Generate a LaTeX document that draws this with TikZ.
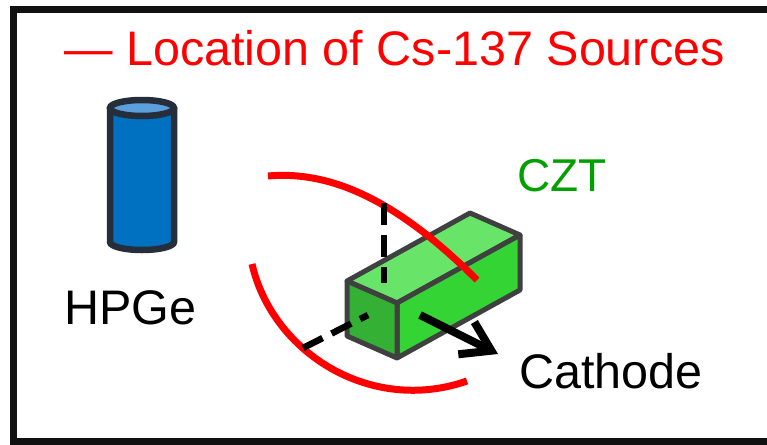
\documentclass[tikz,border=0pt]{standalone}
\usepackage{fontspec}
\setmainfont{Liberation Sans}
\usetikzlibrary{arrows.meta}

\definecolor{frame}{RGB}{17,17,17}
\definecolor{hpge}{RGB}{0,112,192}
\definecolor{hpgetop}{RGB}{91,160,220}
\definecolor{hpgeedge}{RGB}{38,45,59}
\definecolor{cztedge}{RGB}{64,64,64}
\definecolor{czttop}{RGB}{104,228,104}
\definecolor{cztside}{RGB}{52,212,52}
\definecolor{cztfront}{RGB}{52,176,52}
\definecolor{cztlabel}{RGB}{0,160,0}

\begin{document}
\begin{tikzpicture}[x=1pt, y=-1pt,
    label text/.style={inner sep=0pt, anchor=base west, font=\fontsize{48.5}{50}\selectfont},
    source ring/.style={draw=red, line width=7pt},
    axis line/.style={line width=6.5pt, dash pattern=on 22pt off 10pt},
    face/.style={draw=cztedge, line width=5pt, line join=round}]
  \useasboundingbox (0,0) rectangle (767,444);
  \draw[frame, line width=7pt] (13,9.5) rectangle (800,441.5);

  \node[label text, text=red] (legend) at (64,65) {— Location of Cs-137 Sources};

  % HPGe
  \fill[hpge] (110,108) rectangle (174,242);
  \fill[hpge] (142,242) ellipse[x radius=32pt, y radius=8pt];
  \draw[hpgeedge, line width=6.5pt] (110,108) -- (110,242)
    arc[start angle=180, end angle=360, x radius=32pt, y radius=8pt] -- (174,108);
  \filldraw[fill=hpgetop, draw=hpgeedge, line width=6.5pt] (142,108) ellipse[x radius=32pt, y radius=8pt];
  \node[label text] (hpge) at (64,324) {HPGe};

  % CZT bar
  \coordinate (ftl) at (347,281);
  \coordinate (ftr) at (397,303);
  \coordinate (fbr) at (397,358);
  \coordinate (fbl) at (347,336);
  \coordinate (btl) at (470,213);
  \coordinate (btr) at (520,235);
  \coordinate (bbr) at (520,290);
  \filldraw[face, fill=czttop] (ftl) -- (ftr) -- (btr) -- (btl) -- cycle;
  \filldraw[face, fill=cztside] (ftr) -- (btr) -- (bbr) -- (fbr) -- cycle;
  \filldraw[face, fill=cztfront] (ftl) -- (ftr) -- (fbr) -- (fbl) -- cycle;
  \node[label text, font=\fontsize{46}{50}\selectfont, text=cztlabel] (czt) at (517,191) {CZT};

  % source positions
  \coordinate (upper start) at (268,176);
  \coordinate (upper end) at (477,280);
  \coordinate (lower start) at (252,264);
  \coordinate (lower end) at (467,381);
  \draw[source ring] (upper start) .. controls (335,170) and (402,205) .. (upper end);
  \draw[source ring] (lower start) .. controls (272.5,353) and (371,414.5) .. (lower end);

  \coordinate (ring top) at (384,203);
  \coordinate (top centre) at (384,283);
  \coordinate (ring front) at (303,348);
  \coordinate (front centre) at (368,315);
  \draw[axis line] (ring top) -- (top centre);
  \draw[axis line] (ring front) -- (front centre);

  \coordinate (side) at (420,315);
  \coordinate (cathode tip) at (498,354);
  \draw[line width=8pt, -{Straight Barb[sharp, length=28pt, width=36pt]}] (side) -- (cathode tip);
  \node[label text] (cathode) at (519,388) {Cathode};
\end{tikzpicture}
\end{document}
